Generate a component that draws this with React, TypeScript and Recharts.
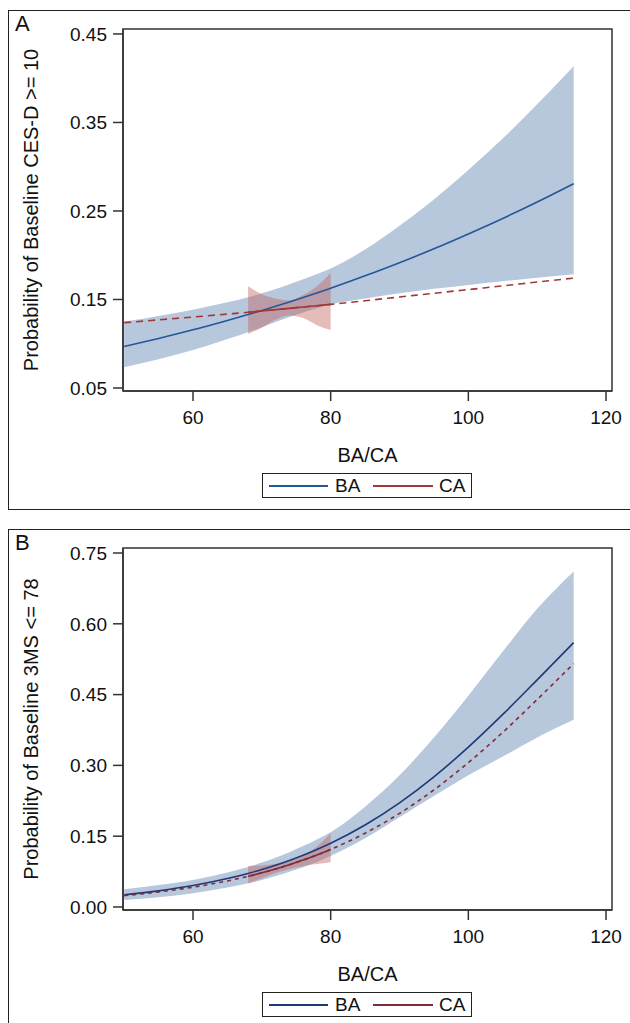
import React from 'react';
import { ComposedChart, Area, Line, XAxis, YAxis, ReferenceArea } from 'recharts';

const FONT = '"Liberation Sans", Arial, Helvetica, sans-serif';

// BA/CA grid shared by both panels
const X_VALUES = [50, 55, 60, 65, 68, 70, 72, 74, 76, 78, 80, 85, 90, 95, 100, 105, 110, 115.3];
// the CA band only covers the observed CA range
const CA_BAND_X = [68, 70, 72, 74, 76, 78, 80];
const X_TICKS = [60, 80, 100, 120];
const X_DOMAIN: [number, number] = [49.83, 120.87];

// Panel A: CES-D >= 10
const A_BA = [0.097, 0.106, 0.1157, 0.1263, 0.133, 0.1376, 0.1423, 0.1472, 0.1522, 0.1574, 0.1627, 0.1767, 0.1915, 0.2073, 0.2241, 0.2416, 0.2602, 0.2809];
const A_BA_LO = [0.0734, 0.0824, 0.0928, 0.1053, 0.113, 0.1187, 0.1245, 0.1301, 0.1353, 0.1401, 0.1443, 0.151, 0.157, 0.162, 0.1665, 0.1705, 0.1745, 0.1785];
const A_BA_HI = [0.125, 0.1314, 0.1385, 0.1468, 0.1525, 0.1571, 0.1618, 0.1673, 0.1728, 0.1787, 0.185, 0.2065, 0.2333, 0.263, 0.2963, 0.3318, 0.3705, 0.4134];
const A_CA = [0.1238, 0.127, 0.1302, 0.1335, 0.1355, 0.137, 0.1385, 0.14, 0.1415, 0.143, 0.1445, 0.1486, 0.1528, 0.157, 0.1612, 0.1654, 0.1697, 0.1742];
const A_CA_LO = [0.111, 0.118, 0.127, 0.132, 0.129, 0.121, 0.1155];
const A_CA_HI = [0.165, 0.156, 0.151, 0.149, 0.155, 0.165, 0.18];
const A_Y_TICKS = [0.05, 0.15, 0.25, 0.35, 0.45];

// Panel B: 3MS <= 78
const B_BA = [0.0256, 0.0342, 0.0454, 0.0602, 0.0711, 0.0794, 0.0885, 0.0986, 0.1096, 0.1218, 0.135, 0.1736, 0.2205, 0.2757, 0.3387, 0.408, 0.4813, 0.5602];
const B_BA_LO = [0.0148, 0.0208, 0.0293, 0.0411, 0.0502, 0.0573, 0.0654, 0.0745, 0.0843, 0.0953, 0.1081, 0.1455, 0.19, 0.235, 0.279, 0.3187, 0.359, 0.3965];
const B_BA_HI = [0.0375, 0.0465, 0.0573, 0.0731, 0.0847, 0.0941, 0.1044, 0.1161, 0.129, 0.1431, 0.1585, 0.2125, 0.2789, 0.359, 0.4477, 0.5412, 0.6318, 0.711];
const B_CA = [0.024, 0.0318, 0.042, 0.0552, 0.065, 0.0724, 0.0805, 0.0895, 0.0993, 0.1101, 0.122, 0.1563, 0.1983, 0.248, 0.3058, 0.37, 0.4396, 0.5157];
const B_CA_LO = [0.05, 0.061, 0.072, 0.08, 0.087, 0.091, 0.095];
const B_CA_HI = [0.087, 0.088, 0.091, 0.097, 0.108, 0.128, 0.156];
const B_Y_TICKS = [0, 0.15, 0.3, 0.45, 0.6, 0.75];

function buildRows(ba: number[], baLo: number[], baHi: number[], ca: number[], caLo: number[], caHi: number[]) {
  return X_VALUES.map((x, i) => {
    const j = CA_BAND_X.indexOf(x);
    return {
      x,
      ba: ba[i],
      baBand: [baLo[i], baHi[i]],
      ca: ca[i],
      caSolid: j >= 0 ? ca[i] : null,
      caBand: j >= 0 ? [caLo[j], caHi[j]] : null,
    };
  });
}

interface PanelProps {
  top: number;
  letter: string;
  yLabel: string;
  rows: ReturnType<typeof buildRows>;
  yDomain: [number, number];
  yTicks: number[];
  baColor: string;
  caColor: string;
  dash: string;
}

function Panel({ top, letter, yLabel, rows, yDomain, yTicks, baColor, caColor, dash }: PanelProps) {
  const tickStyle = { fontSize: 19, fill: '#111', fontFamily: FONT };
  const yLabelContent = (props: any) => {
    const vb = props.viewBox || { y: 29, height: 362 };
    const cy = vb.y + vb.height / 2;
    return (
      <text
        x={38}
        y={cy}
        transform={`rotate(-90, 38, ${cy})`}
        textAnchor="middle"
        fontSize={20}
        fontFamily={FONT}
        fill="#111"
      >
        {yLabel}
      </text>
    );
  };

  return (
    <div style={{ position: 'absolute', left: 0, top, width: 630, height: 510 }}>
      <div
        style={{
          position: 'absolute',
          left: 8,
          top: 10,
          width: 640,
          height: 500,
          borderTop: '1.5px solid #222',
          borderLeft: '1.5px solid #222',
          borderBottom: '1.5px solid #222',
          boxSizing: 'border-box',
        }}
      />
      <div
        style={{
          position: 'absolute',
          left: 15,
          top: 12,
          fontSize: 22,
          fontFamily: FONT,
          color: '#111',
          lineHeight: '24px',
        }}
      >
        {letter}
      </div>
      <div style={{ position: 'absolute', left: 0, top: 0 }}>
        <ComposedChart width={630} height={510} data={rows} margin={{ top: 29, right: 18, left: 63, bottom: 79 }}>
          <XAxis
            dataKey="x"
            type="number"
            domain={X_DOMAIN}
            ticks={X_TICKS}
            allowDataOverflow
            height={40}
            tickSize={10}
            tickMargin={10}
            tick={tickStyle}
            axisLine={{ stroke: '#333', strokeWidth: 1.5 }}
            tickLine={{ stroke: '#333', strokeWidth: 1.5 }}
            label={{ value: 'BA/CA', position: 'bottom', offset: 17, fontSize: 20, fontFamily: FONT, fill: '#111' }}
          />
          <YAxis
            type="number"
            domain={yDomain}
            ticks={yTicks}
            allowDataOverflow
            width={60}
            tickSize={10}
            tickMargin={6}
            tick={tickStyle}
            tickFormatter={(v: number) => v.toFixed(2)}
            axisLine={{ stroke: '#333', strokeWidth: 1.5 }}
            tickLine={{ stroke: '#333', strokeWidth: 1.5 }}
            label={{ content: yLabelContent }}
          />
          <Area
            dataKey="baBand"
            type="monotone"
            stroke="none"
            fill="#b7c7dc"
            fillOpacity={1}
            isAnimationActive={false}
            activeDot={false}
          />
          <Area
            dataKey="caBand"
            type="monotone"
            stroke="none"
            fill="#c0605a"
            fillOpacity={0.42}
            isAnimationActive={false}
            activeDot={false}
          />
          <Line dataKey="ba" type="monotone" stroke={baColor} strokeWidth={1.6} dot={false} isAnimationActive={false} />
          <Line
            dataKey="ca"
            type="monotone"
            stroke={caColor}
            strokeWidth={1.6}
            strokeDasharray={dash}
            dot={false}
            isAnimationActive={false}
          />
          <Line dataKey="caSolid" type="monotone" stroke={caColor} strokeWidth={1.6} dot={false} isAnimationActive={false} />
          <ReferenceArea
            x1={X_DOMAIN[0]}
            x2={X_DOMAIN[1]}
            y1={yDomain[0]}
            y2={yDomain[1]}
            fill="none"
            stroke="#333"
            strokeWidth={1.5}
            ifOverflow="visible"
          />
        </ComposedChart>
      </div>
      <div
        style={{
          position: 'absolute',
          left: 262,
          top: 473,
          width: 210,
          height: 25,
          border: '1.5px solid #222',
          boxSizing: 'border-box',
          fontFamily: FONT,
          fontSize: 19,
          color: '#111',
        }}
      >
        <div style={{ position: 'absolute', left: 6, top: 11, width: 59, height: 2, background: baColor }} />
        <div style={{ position: 'absolute', left: 72, top: 0, lineHeight: '23px' }}>BA</div>
        <div style={{ position: 'absolute', left: 110, top: 11, width: 60, height: 2, background: caColor }} />
        <div style={{ position: 'absolute', left: 176, top: 0, lineHeight: '23px' }}>CA</div>
      </div>
    </div>
  );
}

export default function App() {
  const rowsA = buildRows(A_BA, A_BA_LO, A_BA_HI, A_CA, A_CA_LO, A_CA_HI);
  const rowsB = buildRows(B_BA, B_BA_LO, B_BA_HI, B_CA, B_CA_LO, B_CA_HI);
  return (
    <div style={{ position: 'absolute', left: 0, top: 0, width: 630, height: 1023, overflow: 'hidden', background: '#fff' }}>
      <Panel
        top={0}
        letter="A"
        yLabel="Probability of Baseline CES-D >= 10"
        rows={rowsA}
        yDomain={[0.0466, 0.4556]}
        yTicks={A_Y_TICKS}
        baColor="#24579a"
        caColor="#a03a3a"
        dash="7 5"
      />
      <Panel
        top={519}
        letter="B"
        yLabel="Probability of Baseline 3MS <= 78"
        rows={rowsB}
        yDomain={[-0.0064, 0.7606]}
        yTicks={B_Y_TICKS}
        baColor="#1e3878"
        caColor="#7e2c3c"
        dash="4 4"
      />
    </div>
  );
}
